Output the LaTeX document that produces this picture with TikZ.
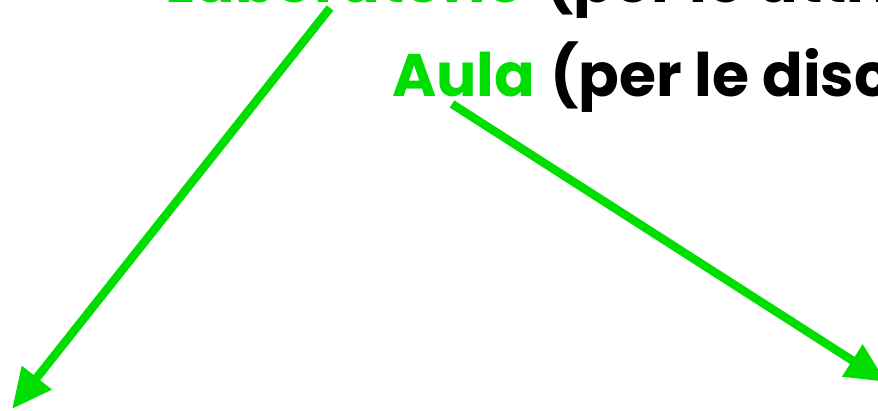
\documentclass[tikz,border=0pt]{standalone}
\usepackage{fontspec}
\setmainfont{Poppins}[BoldFont={* Bold}]
\usetikzlibrary{arrows.meta}
\definecolor{lgreen}{RGB}{0,221,0}
\tikzset{
  txt/.style={inner sep=0pt, font=\fontsize{60}{66}\selectfont\bfseries},
  gtxt/.style={txt, text=lgreen},
  btxt/.style={txt, text=black},
  garrow/.style={draw=lgreen, line width=8.5pt, -{Triangle[length=40pt,width=36pt]}}
}
\begin{document}
\begin{tikzpicture}[x=1pt,y=1pt]
\useasboundingbox (0,0) rectangle (878,411);
\clip (0,0) rectangle (878,411);
\node[gtxt, anchor=base east] (lab) at (525,408) {Laboratorio};
\node[btxt, anchor=base west] (labr) at (545,408) {(per le attività};
\node[gtxt, anchor=base west] (aula) at (392,314) {Aula};
\node[btxt, anchor=base west] (aular) at (550,314) {(per le discipline};
\coordinate (s1) at (330,403);
\coordinate (e1) at (12,2);
\coordinate (s2) at (452,307);
\coordinate (e2) at (886,29);
\draw[garrow] (s1) -- (e1);
\draw[garrow] (s2) -- (e2);
\end{tikzpicture}
\end{document}
